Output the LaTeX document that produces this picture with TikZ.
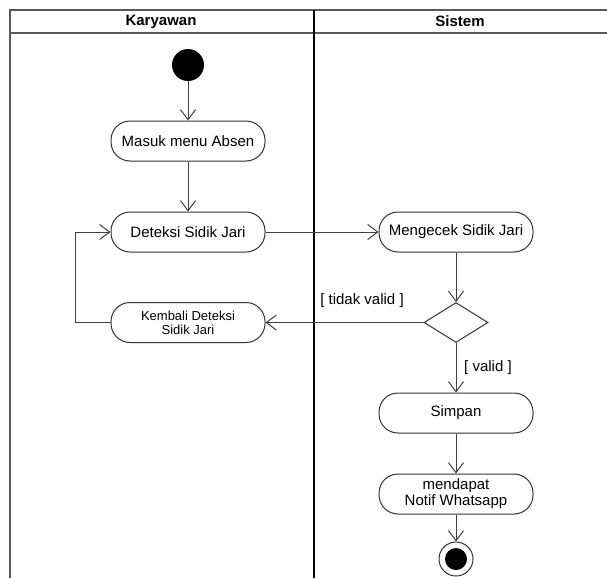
\documentclass[tikz,border=0pt]{standalone}
\usepackage{fontspec}
\setmainfont{Liberation Sans}
\usetikzlibrary{arrows.meta,shapes.geometric}
\begin{document}
\begin{tikzpicture}[x=1pt,y=-1pt,
  action/.style={draw=black!80, line width=1pt, rounded corners=19pt,
    minimum width=154pt, minimum height=40pt, align=center, inner sep=2pt,
    font=\fontsize{15}{16}\selectfont},
  smallaction/.style={action, font=\fontsize{13}{14}\selectfont},
  flow/.style={draw=black!75, line width=1pt,
    -{Straight Barb[length=10pt,width=15pt,line width=1pt]}},
  lane/.style={draw=black!65, line width=1.5pt},
  divider/.style={draw=black, line width=1.6pt},
  header/.style={font=\bfseries\fontsize{15}{16}\selectfont},
  guard/.style={font=\fontsize{15}{16}\selectfont, inner sep=1pt},
  decision/.style={diamond, draw=black!80, line width=1pt, aspect=1.6,
    minimum width=64pt, minimum height=40pt, inner sep=0pt}
]
\useasboundingbox (0,0) rectangle (607,578);

% swimlane frame
\draw[lane] (10,578) -- (10,10) -- (607,10);
\draw[lane] (10,33) -- (607,33);
\draw[divider] (314,10) -- (314,578);

\node[header] (hkar) at (161,21.5) {Karyawan};
\node[header] (hsis) at (460,21.5) {Sistem};

% activities
\node[circle, fill=black, minimum size=32pt, inner sep=0pt] (start) at (188,65) {};
\node[action] (masuk) at (188,141) {Masuk menu Absen};
\node[action] (deteksi) at (188,232) {Deteksi Sidik Jari};
\node[smallaction] (kembali) at (188,322.5) {Kembali Deteksi\\Sidik Jari};
\node[action] (cek) at (456,232) {Mengecek Sidik Jari};
\node[decision] (dec) at (456,322.5) {};
\node[action] (simpan) at (456,413) {Simpan};
\node[action] (notif) at (456,494) {mendapat\\Notif Whatsapp};
\node[circle, draw=black!80, line width=1pt, minimum size=34pt, inner sep=0pt] (end) at (456,559) {};
\fill[black] (end.center) circle (11pt);

\coordinate (loop) at (75,322.5);

% flows
\draw[flow] (start) -- (masuk);
\draw[flow] (masuk) -- (deteksi);
\draw[flow] (deteksi) -- (cek);
\draw[flow] (cek) -- (dec);
\draw[flow] (dec.west) -- (kembali.east);
\draw[flow] (kembali.west) -- (loop) |- (deteksi.west);
\draw[flow] (dec) -- (simpan);
\draw[flow] (simpan) -- (notif);
\draw[flow] (notif) -- (end);

% guards
\node[guard] (gtidak) at (362,301) {[ tidak valid ]};
\node[guard] (gvalid) at (488,368) {[ valid ]};
\end{tikzpicture}
\end{document}
